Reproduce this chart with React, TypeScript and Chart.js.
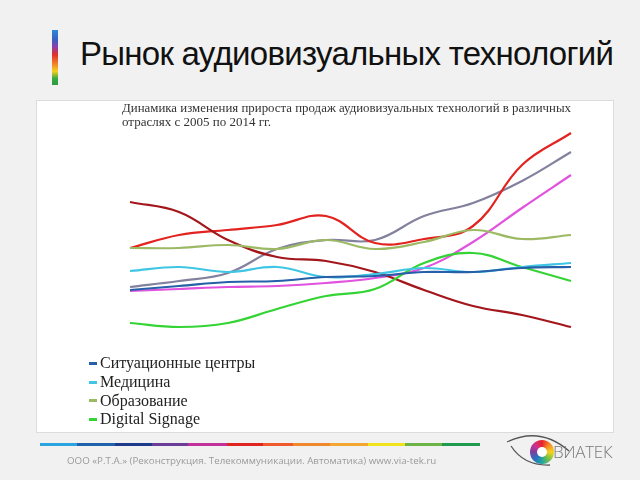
import React, { useEffect, useRef } from "react";
import { Chart, registerables } from "chart.js";

Chart.register(...registerables);

// ---- data ----
const years = ["2005", "2006", "2007", "2008", "2009", "2010", "2011", "2012", "2013", "2014"];

const seriesNames = [
  "Ситуационные центры",
  "Медицина",
  "Образование",
  "Digital Signage",
  "Государственные учреждения",
  "Транспорт",
  "Корпоративный сектор",
  "Торговля",
];

const situationCenters = [5.0, 5.4, 5.8, 5.9, 6.3, 6.4, 6.8, 6.8, 7.2, 7.3];
const medicine = [6.9, 7.3, 6.8, 7.3, 6.3, 6.6, 7.2, 6.8, 7.3, 7.7];
const education = [9.2, 9.2, 9.5, 9.1, 10.0, 9.1, 9.8, 11.0, 10.1, 10.5];
const digitalSignage = [1.7, 1.3, 1.7, 3.1, 4.4, 5.1, 7.7, 8.7, 7.3, 5.9];
const government = [13.8, 12.8, 10.0, 8.3, 7.9, 6.8, 5.0, 3.4, 2.5, 1.3];
const transport = [9.2, 10.5, 11.0, 11.5, 12.4, 9.7, 10.1, 11.4, 17.5, 20.7];
const corporate = [5.3, 5.9, 6.7, 9.1, 10.0, 10.0, 12.4, 13.7, 15.9, 18.8];
const retail = [4.9, 5.1, 5.3, 5.4, 5.7, 6.2, 7.2, 9.8, 13.2, 16.5];

const seriesValues = [
  situationCenters,
  medicine,
  education,
  digitalSignage,
  government,
  transport,
  corporate,
  retail,
];

const seriesColors = [
  "#2560a8",
  "#3fc6e4",
  "#9cb964",
  "#35d435",
  "#a3161b",
  "#e2231f",
  "#82819e",
  "#e152de",
];

const chartTitle = [
  "Динамика изменения прироста продаж аудиовизуальных технологий в различных",
  "отраслях с 2005 по 2014 гг.",
];

const slideTitle = "Рынок аудиовизуальных технологий";
const footerText = "ООО «Р.Т.А.» (Реконструкция. Телекоммуникации. Автоматика) www.via-tek.ru";
const logoText = "ВИАТЕК";

function LineChart() {
  const ref = useRef<HTMLCanvasElement | null>(null);
  useEffect(() => {
    if (!ref.current) return;
    const chart = new Chart(ref.current, {
      type: "line",
      data: {
        labels: years,
        datasets: seriesNames.map((name, i) => ({
          label: name,
          data: seriesValues[i],
          borderColor: seriesColors[i],
          backgroundColor: seriesColors[i],
          borderWidth: 2.2,
          pointRadius: 0,
          tension: 0.4,
          fill: false,
          clip: false as any,
        })),
      },
      options: {
        animation: false,
        responsive: false,
        maintainAspectRatio: false,
        layout: { padding: { left: 85, right: 42, top: 0, bottom: 92 } },
        plugins: {
          legend: { display: false },
          tooltip: { enabled: false },
          title: {
            display: true,
            text: chartTitle,
            align: "start",
            color: "#333333",
            font: {
              family: "'Liberation Serif', 'DejaVu Serif', serif",
              size: 13,
              lineHeight: 1.1,
              weight: "normal",
            },
            padding: { top: 0, bottom: 0.4 },
          },
        },
        scales: {
          x: { display: false },
          y: {
            display: true,
            min: 0,
            max: 21,
            ticks: { display: false },
            grid: { display: false },
            border: { display: false },
            afterFit: (scale: any) => {
              scale.width = 8;
            },
          },
        },
      },
    });
    return () => chart.destroy();
  }, []);
  return <canvas ref={ref} width={576} height={331} style={{ display: "block" }} />;
}

export default function App() {
  return (
    <div
      style={{
        position: "absolute",
        left: 0,
        top: 0,
        width: 640,
        height: 480,
        background: "#f1f1f1",
        overflow: "hidden",
        fontFamily: "'Liberation Sans', Arial, sans-serif",
      }}
    >
      {/* vertical rainbow bar */}
      <div
        style={{
          position: "absolute",
          left: 52,
          top: 30,
          width: 6,
          height: 55,
          background:
            "linear-gradient(to bottom, #2b8ad6 0%, #3a5fc0 18%, #8a3fb0 30%, #e0302a 45%, #f07a2a 60%, #f5d020 75%, #3aaa40 88%, #2a9a40 100%)",
        }}
      />
      {/* slide title */}
      <div
        style={{
          position: "absolute",
          left: 80,
          top: 37,
          fontSize: 33,
          lineHeight: "33px",
          letterSpacing: -0.72,
          color: "#111",
          whiteSpace: "nowrap",
        }}
      >
        {slideTitle}
      </div>

      {/* chart box */}
      <div
        style={{
          position: "absolute",
          left: 37,
          top: 101,
          width: 576,
          height: 331,
          background: "#ffffff",
          outline: "1px solid #dcdcdc",
          overflow: "hidden",
        }}
      >
        <LineChart />
        <div style={{ position: "absolute", left: 52, top: 253 }}>
          {seriesNames.map((name, i) => (
            <div
              key={name}
              style={{
                display: "flex",
                alignItems: "center",
                height: 18.7,
                fontFamily: "'Liberation Serif', 'DejaVu Serif', serif",
                fontSize: 16,
                color: "#222",
                whiteSpace: "nowrap",
              }}
            >
              <span
                style={{
                  display: "inline-block",
                  width: 8,
                  height: 3,
                  background: seriesColors[i],
                  marginRight: 3,
                }}
              />
              {name}
            </div>
          ))}
        </div>
      </div>

      {/* rainbow underline */}
      <div
        style={{
          position: "absolute",
          left: 40,
          top: 443,
          width: 440,
          height: 3,
          background:
            "linear-gradient(to right, #2aa3de 0px, #2aa3de 37px, #2160ad 37px, #2160ad 75px, #1e3a8a 75px, #1e3a8a 112px, #6b3c98 112px, #6b3c98 148px, #c2309b 148px, #c2309b 187px, #e0241f 187px, #e0241f 223px, #ef5a2c 223px, #ef5a2c 253px, #f0892e 253px, #f0892e 290px, #f4a532 290px, #f4a532 328px, #f2e21c 328px, #f2e21c 365px, #6cb447 365px, #6cb447 402px, #1f9a4e 402px, #1f9a4e 440px)",
        }}
      />

      {/* footer */}
      <div
        style={{
          position: "absolute",
          left: 67,
          top: 455,
          fontFamily: "'Open Sans', sans-serif",
          fontSize: 9.75,
          lineHeight: "12px",
          color: "#9a9a9a",
          whiteSpace: "nowrap",
        }}
      >
        {footerText}
      </div>

      {/* logo */}
      <svg
        width={640}
        height={480}
        style={{ position: "absolute", left: 0, top: 0, pointerEvents: "none" }}
      >
        <path d="M 507 442 Q 540 426 569 451" stroke="#555" strokeWidth={1.3} fill="none" />
        <path d="M 511 446 Q 524 466 550 465" stroke="#555" strokeWidth={1.3} fill="none" />
      </svg>
      <div
        style={{
          position: "absolute",
          left: 530,
          top: 440,
          width: 24,
          height: 24,
          borderRadius: "50%",
          background:
            "conic-gradient(#e8232a, #f58a24, #f5d31f, #7cc242, #20a5a0, #2a6fc0, #7a3fa0, #d12f8f, #e8232a)",
        }}
      >
        <div
          style={{
            position: "absolute",
            left: 7,
            top: 7,
            width: 10,
            height: 10,
            borderRadius: "50%",
            background: "#fff",
          }}
        />
      </div>
      <div
        style={{
          position: "absolute",
          left: 553,
          top: 442,
          fontFamily: "'Open Sans', sans-serif",
          fontWeight: 300,
          fontSize: 17,
          lineHeight: "20px",
          color: "#7a7a7a",
          letterSpacing: -0.3,
          whiteSpace: "nowrap",
        }}
      >
        {logoText}
      </div>
    </div>
  );
}
